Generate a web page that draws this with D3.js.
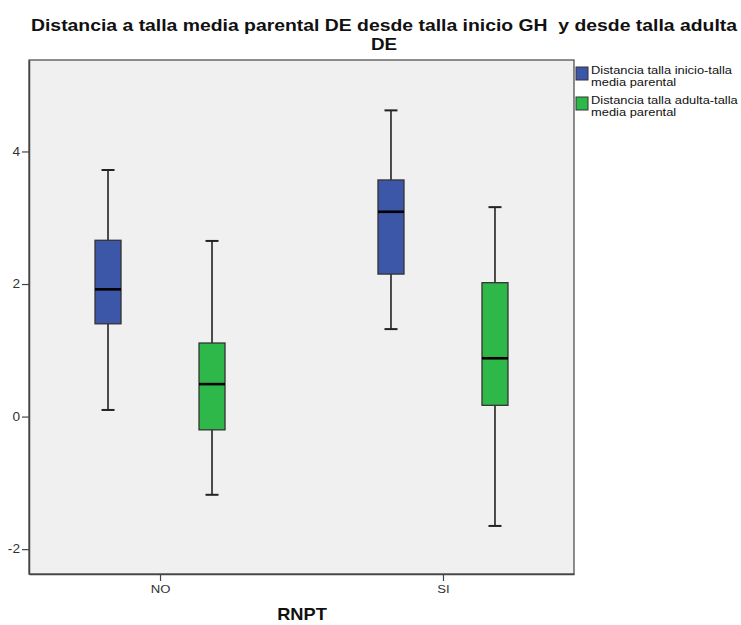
<!DOCTYPE html>
<html><head><meta charset="utf-8">
<script src="https://cdn.jsdelivr.net/npm/d3@7"></script>
<style>body{margin:0;background:#fff}svg{display:block}text{font-family:Arial,"Liberation Sans",sans-serif}</style>
</head><body>
<script>
const categories = ["NO", "SI"];
const seriesNames = ["Distancia talla inicio-talla media parental", "Distancia talla adulta-talla media parental"];
const seriesLegendLines = [["Distancia talla inicio-talla", "media parental"], ["Distancia talla adulta-talla", "media parental"]];
const seriesColors = ["#3c56a8", "#2fb84a"];
// [whiskerLow, Q1, median, Q3, whiskerHigh]
const inicioStats = [[0.10, 1.40, 1.92, 2.66, 3.72], [1.32, 2.15, 3.09, 3.57, 4.62]];
const adultaStats = [[-1.18, -0.20, 0.49, 1.11, 2.65], [-1.65, 0.17, 0.88, 2.02, 3.16]];
const yTicks = [-2, 0, 2, 4];
const title1 = "Distancia a talla media parental DE desde talla inicio GH  y desde talla adulta";
const title2 = "DE";
const xTitle = "RNPT";

const W = 741, H = 625;
const L = 29, R = 574, T = 60, B = 574;
const SX = 1.14;
const svg = d3.select("body").append("svg").attr("width", W).attr("height", H);

const y = d3.scaleLinear().domain([-2.375, 5.38]).range([B, T]);
const x = d3.scalePoint().domain(categories).range([L, R]).padding(0.463);

svg.append("rect").attr("x", L).attr("y", T).attr("width", R - L).attr("height", B - T)
  .attr("fill", "#f0f0f0").attr("stroke", "#444").attr("stroke-width", 1.2);

function stretchText(sel, px, py, anchor) {
  sel.attr("x", 0).attr("y", 0).attr("text-anchor", anchor)
    .attr("transform", `translate(${px},${py}) scale(${SX},1)`);
  return sel;
}

// Title
svg.append("text").attr("x", 384).attr("y", 31).attr("text-anchor", "middle")
  .attr("font-size", 16.5).attr("font-weight", "bold").attr("fill", "#111")
  .attr("textLength", 706).attr("lengthAdjust", "spacingAndGlyphs").text(title1.replace("  ", " \u00a0"));
stretchText(svg.append("text"), 384, 50, "middle")
  .attr("font-size", 16.5).attr("font-weight", "bold").attr("fill", "#111").text(title2);

// Axes
const yAxis = d3.axisLeft(y).tickValues(yTicks).tickSize(7).tickSizeOuter(0).tickPadding(2).tickFormat(d => String(d));
const gy = svg.append("g").attr("transform", `translate(${L},0)`).call(yAxis);
gy.select(".domain").attr("stroke", "#444").attr("stroke-width", 1.5);
gy.selectAll(".tick line").attr("stroke", "#444").attr("stroke-width", 1.2);
gy.selectAll(".tick text").each(function () {
  const t = d3.select(this);
  const px = +t.attr("x"); const py = 0;
  t.attr("x", 0).attr("transform", `translate(${px},${py}) scale(${SX},1)`);
}).attr("font-size", 12).attr("fill", "#333").attr("font-family", "Arial,'Liberation Sans',sans-serif");

const xAxis = d3.axisBottom(x).tickSize(7).tickSizeOuter(0).tickPadding(4);
const gx = svg.append("g").attr("transform", `translate(0,${B})`).call(xAxis);
gx.select(".domain").attr("stroke", "#444").attr("stroke-width", 1.5);
gx.selectAll(".tick line").attr("stroke", "#444").attr("stroke-width", 1.2);
gx.selectAll(".tick text").attr("transform", `scale(${SX},1)`)
  .attr("font-size", 11.5).attr("fill", "#333").attr("font-family", "Arial,'Liberation Sans',sans-serif");

stretchText(svg.append("text"), 302, 620, "middle")
  .attr("font-size", 16).attr("font-weight", "bold").attr("fill", "#111").text(xTitle);

// Boxes
const allStats = [inicioStats, adultaStats];
const bw = 26, cap = 13;
categories.forEach((c, ci) => {
  allStats.forEach((st, si) => {
    const s = st[ci];
    const cx = x(c) + (si === 0 ? -52 : 52);
    const g = svg.append("g");
    g.append("line").attr("x1", cx).attr("x2", cx).attr("y1", y(s[4])).attr("y2", y(s[3])).attr("stroke", "#222").attr("stroke-width", 1.6);
    g.append("line").attr("x1", cx).attr("x2", cx).attr("y1", y(s[1])).attr("y2", y(s[0])).attr("stroke", "#222").attr("stroke-width", 1.6);
    g.append("line").attr("x1", cx - cap / 2).attr("x2", cx + cap / 2).attr("y1", y(s[4])).attr("y2", y(s[4])).attr("stroke", "#222").attr("stroke-width", 2);
    g.append("line").attr("x1", cx - cap / 2).attr("x2", cx + cap / 2).attr("y1", y(s[0])).attr("y2", y(s[0])).attr("stroke", "#222").attr("stroke-width", 2);
    g.append("rect").attr("x", cx - bw / 2).attr("y", y(s[3])).attr("width", bw).attr("height", y(s[1]) - y(s[3]))
      .attr("fill", seriesColors[si]).attr("stroke", "#333").attr("stroke-width", 1.3);
    g.append("line").attr("x1", cx - bw / 2).attr("x2", cx + bw / 2).attr("y1", y(s[2])).attr("y2", y(s[2])).attr("stroke", "#000").attr("stroke-width", 2.6);
  });
});

// Legend
seriesNames.forEach((n, i) => {
  const ly = 67 + i * 30;
  svg.append("rect").attr("x", 576).attr("y", ly).attr("width", 12).attr("height", 13)
    .attr("fill", seriesColors[i]).attr("stroke", "#333").attr("stroke-width", 1);
  seriesLegendLines[i].forEach((t, j) => {
    stretchText(svg.append("text"), 591, ly + 7 + j * 12, "start")
      .attr("font-size", 11.3).attr("fill", "#111").text(t);
  });
});
</script>
</body></html>
